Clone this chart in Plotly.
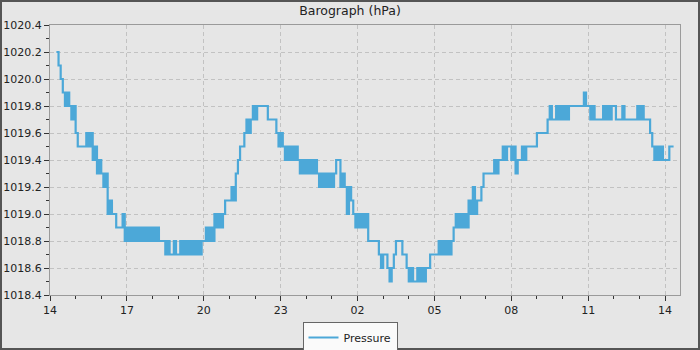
import pandas as pd
import plotly.graph_objects as go

# Barograph readings (hPa), one every 5 minutes from 14:15
start_time = "2024-01-14 14:15"
sample_step = "5min"
pressure = [
    1020.2, 1020.1, 1020.0, 1019.9, 1019.8, 1019.9, 1019.8, 1019.7, 1019.8, 1019.6, 1019.5, 1019.5,
    1019.5, 1019.5, 1019.6, 1019.5, 1019.6, 1019.4, 1019.5, 1019.3, 1019.4, 1019.3, 1019.2, 1019.3,
    1019.0, 1019.1, 1019.0, 1019.0, 1018.9, 1018.9, 1018.9, 1019.0, 1018.8, 1018.9, 1018.8, 1018.9,
    1018.8, 1018.9, 1018.8, 1018.9, 1018.8, 1018.9, 1018.8, 1018.9, 1018.8, 1018.9, 1018.8, 1018.9,
    1018.8, 1018.8, 1018.8, 1018.7, 1018.8, 1018.7, 1018.7, 1018.8, 1018.7, 1018.7, 1018.8, 1018.7,
    1018.8, 1018.7, 1018.8, 1018.7, 1018.8, 1018.7, 1018.8, 1018.7, 1018.8, 1018.8, 1018.9, 1018.8,
    1018.9, 1018.8, 1019.0, 1018.9, 1019.0, 1018.9, 1019.0, 1019.1, 1019.1, 1019.1, 1019.2, 1019.1,
    1019.3, 1019.4, 1019.5, 1019.5, 1019.6, 1019.7, 1019.6, 1019.7, 1019.8, 1019.7, 1019.8, 1019.8,
    1019.8, 1019.8, 1019.8, 1019.7, 1019.7, 1019.7, 1019.7, 1019.6, 1019.5, 1019.6, 1019.5, 1019.4,
    1019.5, 1019.4, 1019.5, 1019.4, 1019.5, 1019.4, 1019.3, 1019.4, 1019.3, 1019.4, 1019.3, 1019.4,
    1019.3, 1019.4, 1019.3, 1019.2, 1019.3, 1019.2, 1019.3, 1019.2, 1019.3, 1019.2, 1019.3, 1019.4,
    1019.4, 1019.2, 1019.3, 1019.2, 1019.0, 1019.2, 1019.1, 1019.0, 1018.9, 1019.0, 1018.9, 1019.0,
    1018.9, 1019.0, 1018.8, 1018.8, 1018.8, 1018.8, 1018.8, 1018.7, 1018.6, 1018.7, 1018.7, 1018.6,
    1018.5, 1018.6, 1018.7, 1018.8, 1018.8, 1018.8, 1018.7, 1018.7, 1018.6, 1018.5, 1018.6, 1018.5,
    1018.5, 1018.6, 1018.5, 1018.6, 1018.5, 1018.6, 1018.6, 1018.7, 1018.7, 1018.7, 1018.7, 1018.8,
    1018.7, 1018.8, 1018.7, 1018.8, 1018.7, 1018.8, 1018.9, 1019.0, 1018.9, 1019.0, 1018.9, 1019.0,
    1018.9, 1019.1, 1019.0, 1019.2, 1019.0, 1019.1, 1019.1, 1019.2, 1019.3, 1019.3, 1019.3, 1019.3,
    1019.3, 1019.4, 1019.3, 1019.4, 1019.4, 1019.5, 1019.4, 1019.5, 1019.5, 1019.4, 1019.5, 1019.3,
    1019.4, 1019.4, 1019.5, 1019.4, 1019.5, 1019.5, 1019.5, 1019.5, 1019.5, 1019.6, 1019.6, 1019.6,
    1019.6, 1019.6, 1019.7, 1019.8, 1019.7, 1019.7, 1019.8, 1019.7, 1019.8, 1019.7, 1019.8, 1019.7,
    1019.8, 1019.8, 1019.8, 1019.8, 1019.8, 1019.8, 1019.8, 1019.9, 1019.8, 1019.8, 1019.7, 1019.8,
    1019.7, 1019.7, 1019.7, 1019.7, 1019.8, 1019.7, 1019.8, 1019.7, 1019.8, 1019.8, 1019.7, 1019.7,
    1019.7, 1019.8, 1019.7, 1019.7, 1019.7, 1019.7, 1019.7, 1019.7, 1019.8, 1019.7, 1019.8, 1019.7,
    1019.7, 1019.7, 1019.6, 1019.5, 1019.4, 1019.5, 1019.4, 1019.5, 1019.4, 1019.4, 1019.4, 1019.5,
    1019.5, 1019.5,
]
times = pd.date_range(start_time, periods=len(pressure), freq=sample_step)

x_start = "2024-01-14 14:00"
x_end = "2024-01-15 14:35"
HOUR_MS = 3600000

fig = go.Figure()
fig.add_trace(go.Scatter(
    x=times, y=pressure, mode="lines", name="Pressure",
    line=dict(color="#4ca8d8", width=2.2, shape="hv"),
))

axis_common = dict(
    showline=True, linecolor="#9a9a9a", linewidth=1, mirror=True,
    ticks="outside", ticklen=5, tickcolor="#333", tickwidth=1,
    showgrid=True, gridcolor="#c2c2c2", griddash="4px,3px", gridwidth=1,
    zeroline=False, tickfont=dict(size=11, color="#222"),
)

fig.update_layout(
    width=700, height=350,
    paper_bgcolor="#e6e6e6", plot_bgcolor="#e6e6e6",
    margin=dict(l=50, r=20, t=25, b=55, autoexpand=False),
    font=dict(family="DejaVu Sans", size=11, color="#222"),
    title=dict(text="Barograph (hPa)", x=0.5, xref="container", xanchor="center",
               y=1 - 11 / 350, yref="container", yanchor="middle",
               font=dict(size=12.5, color="#222")),
    xaxis=dict(type="date", range=[x_start, x_end], tick0=x_start, dtick=3 * HOUR_MS,
               tickformat="%H",
               minor=dict(dtick=HOUR_MS, ticks="outside", ticklen=3, tickcolor="#333", showgrid=False),
               **axis_common),
    yaxis=dict(range=[1018.4, 1020.4], tick0=1018.4, dtick=0.2, tickformat=".1f",
               minor=dict(dtick=0.1, ticks="outside", ticklen=3, tickcolor="#333", showgrid=False),
               **axis_common),
    showlegend=True,
    legend=dict(orientation="h", xref="container", x=0.5, xanchor="center",
                yref="container", y=1 - 337.5 / 350, yanchor="middle",
                bgcolor="#fafafa", bordercolor="#666", borderwidth=1,
                font=dict(size=11, color="#222"), itemwidth=30),
    shapes=[dict(type="rect", xref="paper", yref="paper",
                 x0=(1 - 50) / 630, x1=(699 - 50) / 630,
                 y0=(295 - 349) / 270, y1=(295 - 1) / 270,
                 line=dict(color="#555", width=2), fillcolor="rgba(0,0,0,0)", layer="above")],
)

fig.write_html("out.html", config={"displayModeBar": False},
               post_script="document.body.style.margin='0';")
